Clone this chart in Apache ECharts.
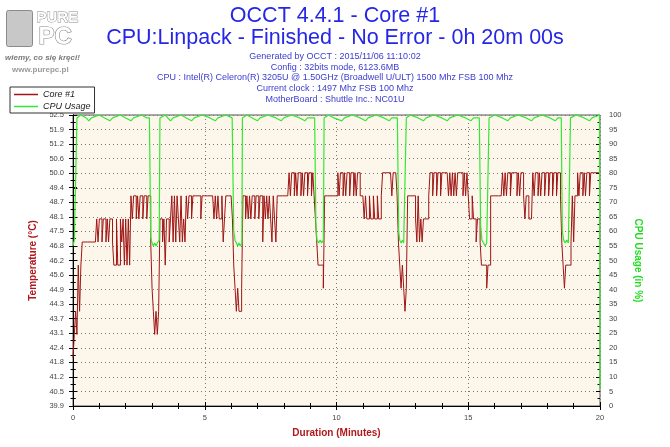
<!DOCTYPE html>
<html><head><meta charset="utf-8">
<script src="https://cdn.jsdelivr.net/npm/echarts@6/dist/echarts.min.js"></script>
<style>html,body{margin:0;padding:0;background:#fff}#c{width:670px;height:447px}</style>
</head><body><div id="c"></div>
<script>
// ---- Text ----
const titleMain = 'OCCT 4.4.1 - Core #1';
const titleSub = 'CPU:Linpack - Finished - No Error - 0h 20m 00s';
const infoLines = [
  'Generated by OCCT : 2015/11/06 11:10:02',
  'Config : 32bits mode, 6123.6MB',
  'CPU : Intel(R) Celeron(R) 3205U @ 1.50GHz (Broadwell U/ULT) 1500 Mhz FSB 100 Mhz',
  'Current clock : 1497 Mhz FSB 100 Mhz',
  'MotherBoard : Shuttle Inc.: NC01U'
];
const seriesNames = ['Core #1', 'CPU Usage'];

// ---- Axes ----
const tempTickLabels = ['39.9','40.5','41.2','41.8','42.4','43.1','43.7','44.3','44.9','45.6','46.2',
  '46.8','47.5','48.1','48.7','49.4','50.0','50.6','51.2','51.9','52.5'];
const tempMin = 39.9, tempMax = 52.5, tempStep = 0.63;
const cpuMin = 0, cpuMax = 100, cpuStep = 5;
const minuteMin = 0, minuteMax = 20, minuteStep = 5;

// ---- Data: Core #1 temperature (°C), one sample every 0.05 minute ----
const sampleStep = 0.05;
const coreTemp = [
  42,43,44,43,46,44,46,47,47,47,47,47,47,47,47,47,47,47,48,47,
  48,48,47,48,48,47,48,47,48,48,47,46,46,48,46,46,48,47,48,46,
  48,46,48,46,49,48,49,49,48,49,48,49,49,48,49,49,48,49,49,47,
  45,44,43,44,43,44,48,48,47,48,46,48,48,47,48,49,47,49,47,49,
  48,47,49,47,48,47,49,48,49,49,48,49,49,49,49,49,49,48,49,49,
  49,49,49,49,49,49,49,48,49,48,49,48,48,49,47,48,49,49,49,49,
  49,48,46,45,44,45,44,44,45,49,49,48,49,48,49,48,49,49,48,49,
  49,48,49,49,47,49,48,49,48,49,48,47,49,48,47,49,49,49,49,49,
  49,49,49,49,50,49,50,50,49,50,49,50,50,49,50,49,50,50,49,50,
  50,49,50,49,48,47,46,46,46,46,45,49,49,49,49,49,49,49,49,49,
  49,50,49,50,50,49,50,49,50,50,49,50,50,49,50,49,50,50,49,49,
  49,48,49,48,48,49,48,48,49,48,48,49,48,48,49,50,50,50,50,50,
  50,50,49,50,50,50,49,47,46,45,46,45,44,45,49,49,49,49,49,49,
  48,47,49,47,48,47,48,48,48,48,49,50,50,49,50,50,49,50,50,49,
  50,50,50,50,50,49,50,49,50,49,50,49,50,50,50,50,49,50,49,50,
  49,48,48,49,48,48,47,48,48,47,46,46,46,46,45,46,46,49,49,49,
  49,49,49,49,49,49,50,49,50,49,50,50,49,50,50,50,50,49,50,49,
  50,50,49,48,49,49,48,48,48,50,49,50,50,49,50,49,50,50,49,50,
  50,49,50,50,49,50,50,49,50,50,49,47,46,45,46,46,46,46,47,49,
  47,49,49,50,49,50,50,49,50,49,50,50,49,50,50,50,50,50,50,50,
  50
];

// ---- Data: CPU usage (%) ----
const cpuMinutes = [
  0,0.05,0.1,0.15,0.3,0.5,0.6,0.7,1.0,1.2,1.4,1.5,1.8,2.0,2.2,2.3,2.6,2.8,2.9,
  2.95,3.0,3.05,3.1,3.15,3.2,3.27,3.3,3.5,3.7,3.8,4.1,4.3,4.5,4.6,4.9,5.2,5.4,5.5,5.8,
  6.04,6.1,6.15,6.2,6.25,6.3,6.35,6.41,6.43,6.6,6.8,7.0,7.1,7.4,7.7,7.9,8.0,8.3,8.6,8.8,8.9,
  9.17,9.22,9.26,9.32,9.38,9.44,9.5,9.53,9.7,9.9,10.2,10.3,10.6,10.9,11.1,11.2,11.5,11.8,12.0,12.1,
  12.31,12.36,12.4,12.45,12.5,12.55,12.62,12.65,12.8,13.1,13.3,13.4,13.7,14.0,14.2,14.3,14.6,14.9,15.1,15.2,
  15.42,15.47,15.52,15.58,15.64,15.7,15.76,15.79,16.0,16.3,16.5,16.6,16.9,17.2,17.4,17.5,17.8,18.1,18.3,18.4,
  18.53,18.57,18.62,18.68,18.74,18.8,18.86,18.88,19.1,19.4,19.6,19.7,19.98,20
];
const cpuPercent = [
  55,57,78,99,100,99,98,99,100,99,98,99,100,99,98,99,100,99,99,
  58,56,55,56,55,56,57,99,100,98,99,100,99,98,99,100,99,98,99,100,
  99,60,57,56,55,56,55,56,99,100,99,98,99,100,99,98,99,100,99,98,99,
  99,62,57,56,57,56,57,99,100,99,98,99,100,99,98,99,100,99,98,99,
  99,60,57,56,57,56,56,99,100,99,98,99,100,99,98,99,100,99,98,99,
  99,62,57,56,55,56,56,99,100,99,98,99,100,99,98,99,100,99,98,99,
  99,60,57,56,57,56,56,99,100,99,98,99,100,6
];

const tempSeries = coreTemp.map((v, i) => [Math.round(i * sampleStep * 100) / 100, v]);
const cpuSeries = cpuMinutes.map((t, i) => [t, cpuPercent[i]]);

const FONT = 'Liberation Sans';
const dotted = { color: '#777', width: 1, type: [1, 3] };
const black = { color: '#000', width: 1 };

function overlayY(min, max, interval, position) {
  return {
    type: 'value', position, min, max, interval,
    axisLine: { show: false }, axisLabel: { show: false }, splitLine: { show: false },
    axisTick: { show: true, inside: true, length: 4, lineStyle: black },
    minorTick: { show: true, splitNumber: 2, length: 2.5, lineStyle: black }
  };
}

const infoGraphics = infoLines.map((line, i) => ({
  type: 'text', left: 'center', top: 52 + i * 10.7,
  style: { text: line, font: '9px ' + FONT, fill: '#3b3bd0' }
}));

const chart = echarts.init(document.getElementById('c'), null, { renderer: 'canvas' });
chart.setOption({
  animation: false,
  backgroundColor: '#fff',
  textStyle: { fontFamily: FONT },
  title: [
    { text: titleMain, left: 'center', top: 5, padding: 0,
      textStyle: { fontFamily: FONT, fontSize: 21.5, fontWeight: 'normal', color: '#2626e6' } },
    { text: titleSub, left: 'center', top: 27, padding: 0,
      textStyle: { fontFamily: FONT, fontSize: 21.5, fontWeight: 'normal', color: '#2626e6' } }
  ],
  graphic: [
    { type: 'rect', left: 6, top: 10, shape: { width: 26, height: 36, r: 2 }, style: { fill: '#c8c8c8', stroke: '#8a8a8a', lineWidth: 1 } },
    { type: 'text', left: 36, top: 10, style: { text: 'PURE', font: 'bold 15px ' + FONT, fill: '#fff', stroke: '#8a8a8a', lineWidth: 1 } },
    { type: 'text', left: 38, top: 25, style: { text: 'PC', font: 'bold 24px ' + FONT, fill: '#fff', stroke: '#8a8a8a', lineWidth: 1.2 } },
    { type: 'text', left: 5, top: 54, style: { text: 'wiemy, co się kręci!', font: 'italic bold 8px ' + FONT, fill: '#7a7a7a' } },
    { type: 'text', left: 12, top: 66, style: { text: 'www.purepc.pl', font: 'bold 8px ' + FONT, fill: '#9a9a9a' } }
  ].concat(infoGraphics),
  legend: {
    orient: 'vertical', left: 10, top: 87, padding: [3, 4, 2, 4], itemGap: 3,
    itemWidth: 24, itemHeight: 1.5, icon: 'rect', borderColor: '#333', borderWidth: 1, backgroundColor: '#fff',
    data: seriesNames,
    textStyle: { fontFamily: FONT, fontSize: 9, fontStyle: 'italic', color: '#222' }
  },
  grid: { left: 73, right: 70, top: 115, bottom: 41, show: true, backgroundColor: '#fcf7ea', borderColor: '#555', borderWidth: 1 },
  xAxis: [
    { type: 'value', min: minuteMin, max: minuteMax, interval: minuteStep,
      name: 'Duration (Minutes)', nameLocation: 'middle', nameGap: 22,
      nameTextStyle: { fontFamily: FONT, fontSize: 10, fontWeight: 'bold', color: '#b0181c' },
      axisLine: { lineStyle: black },
      axisTick: { length: 4, lineStyle: black },
      minorTick: { show: true, splitNumber: 5, length: 3, lineStyle: black },
      axisLabel: { margin: 8, fontSize: 7.5, color: '#444', fontFamily: FONT },
      splitLine: { show: true, lineStyle: dotted } },
    { type: 'value', min: minuteMin, max: minuteMax, interval: minuteStep, position: 'bottom',
      axisLine: { show: false }, axisLabel: { show: false }, splitLine: { show: false },
      axisTick: { show: true, inside: true, length: 4, lineStyle: black },
      minorTick: { show: true, splitNumber: 5, length: 3, lineStyle: black } }
  ],
  yAxis: [
    { type: 'value', position: 'left', min: tempMin, max: tempMax, interval: tempStep,
      name: 'Temperature (°C)', nameLocation: 'middle', nameGap: 26,
      nameTextStyle: { fontFamily: FONT, fontSize: 10, fontWeight: 'bold', color: '#b0181c' },
      axisLine: { show: true, lineStyle: black },
      axisTick: { length: 4, lineStyle: black },
      minorTick: { show: true, splitNumber: 2, length: 2.5, lineStyle: black },
      axisLabel: { margin: 9, fontSize: 7.5, color: '#444', fontFamily: FONT,
        formatter: (v, i) => tempTickLabels[i] },
      splitLine: { show: false } },
    { type: 'value', position: 'right', min: cpuMin, max: cpuMax, interval: cpuStep,
      name: 'CPU Usage (in %)', nameLocation: 'middle', nameGap: 23, nameRotate: -90,
      nameTextStyle: { fontFamily: FONT, fontSize: 10, fontWeight: 'bold', color: '#22dd22' },
      axisLine: { show: true, lineStyle: black },
      axisTick: { length: 4, lineStyle: black },
      minorTick: { show: true, splitNumber: 2, length: 2.5, lineStyle: black },
      axisLabel: { margin: 9, fontSize: 7.5, color: '#444', fontFamily: FONT },
      splitLine: { show: true, lineStyle: dotted } },
    overlayY(tempMin, tempMax, tempStep, 'left'),
    overlayY(cpuMin, cpuMax, cpuStep, 'right')
  ],
  series: [
    { name: seriesNames[0], type: 'line', xAxisIndex: 0, yAxisIndex: 0, data: tempSeries,
      step: 'end', symbol: 'none', color: '#a01414', lineStyle: { width: 1, color: '#a01414' }, z: 3 },
    { name: seriesNames[1], type: 'line', xAxisIndex: 0, yAxisIndex: 1, data: cpuSeries,
      symbol: 'none', color: '#33e833', lineStyle: { width: 1.2, color: '#33e833' }, z: 4 }
  ]
});
</script></body></html>
